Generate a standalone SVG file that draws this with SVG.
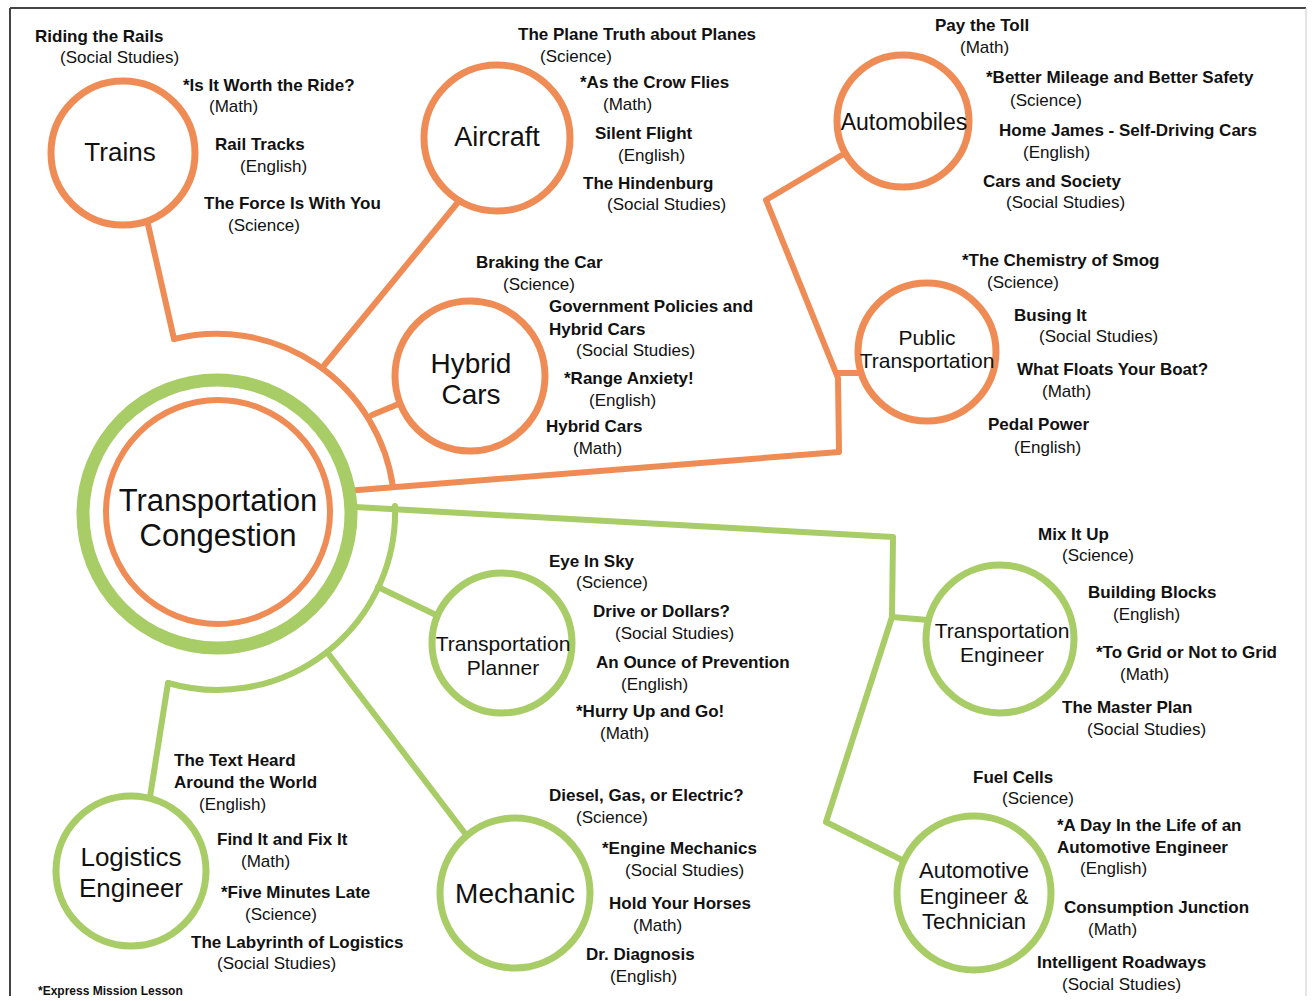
<svg xmlns="http://www.w3.org/2000/svg" width="1312" height="1001" viewBox="0 0 1312 1001">
<style>
.o{fill:none;stroke:#EF8C55;stroke-width:6;stroke-linecap:round;stroke-linejoin:round}
.g{fill:none;stroke:#A8CC66;stroke-width:6;stroke-linecap:round;stroke-linejoin:round}
.on{fill:#fff;stroke:#EF8C55;stroke-width:7}
.gn{fill:#fff;stroke:#A8CC66;stroke-width:7}
.t{font-family:"Liberation Sans",Arial,sans-serif;font-weight:bold;font-size:17px;fill:#111}
.s{font-family:"Liberation Sans",Arial,sans-serif;font-size:17px;fill:#111}
.n{font-family:"Liberation Sans",Arial,sans-serif;text-anchor:middle;fill:#111}
</style>
<rect width="1312" height="1001" fill="#fff"/>
<g id="frame">
<line x1="10" y1="8" x2="1306" y2="8" stroke="#444" stroke-width="2"/>
<line x1="10" y1="8" x2="10" y2="996" stroke="#444" stroke-width="2"/>
<line x1="1306" y1="8" x2="1306" y2="996" stroke="#ccc" stroke-width="1"/>
</g>
<g id="connectors">
<path class="o" d="M174,339 A178,178 0 0 1 393,487"/>
<path class="o" d="M147,220 L174,339"/>
<path class="o" d="M322,368 L459,201"/>
<path class="o" d="M372,415 L401,403"/>
<path class="o" d="M333,492 L839,452 L838,378 L766,200 L847,152"/>
<path class="o" d="M838,373 L861,373"/>
<path class="g" d="M395,506 A178,178 0 0 1 168,683"/>
<path class="g" d="M168,683 L150,797"/>
<path class="g" d="M327,652 L467,836"/>
<path class="g" d="M378,587 L434,614"/>
<path class="g" d="M355,507 L893,537 L892,617 L826,822 L904,861"/>
<path class="g" d="M892,617 L928,620"/>
</g>
<g id="node-central">
<circle cx="217" cy="514" r="134" fill="#fff" stroke="#A8CC66" stroke-width="13"/>
<circle cx="218" cy="512" r="112" fill="#fff" stroke="#EF8C55" stroke-width="6"/>
<text class="n" x="218" y="511" font-size="31">Transportation</text>
<text class="n" x="218" y="546" font-size="31">Congestion</text>
</g>
<g id="node-trains">
<circle class="on" cx="123" cy="153" r="72"/>
<text class="n" x="120" y="161" font-size="26">Trains</text>
<text class="t" x="35" y="42">Riding the Rails</text>
<text class="s" x="60" y="63">(Social Studies)</text>
<text class="t" x="183" y="91">*Is It Worth the Ride?</text>
<text class="s" x="209" y="112">(Math)</text>
<text class="t" x="215" y="150">Rail Tracks</text>
<text class="s" x="240" y="172">(English)</text>
<text class="t" x="204" y="209">The Force Is With You</text>
<text class="s" x="228" y="231">(Science)</text>
</g>
<g id="node-aircraft">
<circle class="on" cx="497" cy="138" r="73"/>
<text class="n" x="497" y="146" font-size="27">Aircraft</text>
<text class="t" x="518" y="40">The Plane Truth about Planes</text>
<text class="s" x="540" y="62">(Science)</text>
<text class="t" x="580" y="88">*As the Crow Flies</text>
<text class="s" x="603" y="110">(Math)</text>
<text class="t" x="595" y="139">Silent Flight</text>
<text class="s" x="618" y="161">(English)</text>
<text class="t" x="583" y="189">The Hindenburg</text>
<text class="s" x="607" y="210">(Social Studies)</text>
</g>
<g id="node-automobiles">
<circle class="on" cx="903" cy="121" r="66"/>
<text class="n" x="904" y="130" font-size="23">Automobiles</text>
<text class="t" x="935" y="31">Pay the Toll</text>
<text class="s" x="960" y="53">(Math)</text>
<text class="t" x="986" y="83">*Better Mileage and Better Safety</text>
<text class="s" x="1010" y="106">(Science)</text>
<text class="t" x="999" y="136">Home James - Self-Driving Cars</text>
<text class="s" x="1023" y="158">(English)</text>
<text class="t" x="983" y="187">Cars and Society</text>
<text class="s" x="1006" y="208">(Social Studies)</text>
</g>
<g id="node-hybrid">
<circle class="on" cx="470" cy="376" r="75"/>
<text class="n" x="471" y="373" font-size="28">Hybrid</text>
<text class="n" x="471" y="404" font-size="28">Cars</text>
<text class="t" x="476" y="268">Braking the Car</text>
<text class="s" x="503" y="290">(Science)</text>
<text class="t" x="549" y="312">Government Policies and</text>
<text class="t" x="549" y="335">Hybrid Cars</text>
<text class="s" x="576" y="356">(Social Studies)</text>
<text class="t" x="564" y="384">*Range Anxiety!</text>
<text class="s" x="589" y="406">(English)</text>
<text class="t" x="546" y="432">Hybrid Cars</text>
<text class="s" x="573" y="454">(Math)</text>
</g>
<g id="node-public">
<circle class="on" cx="927" cy="352" r="69"/>
<text class="n" x="927" y="345" font-size="21">Public</text>
<text class="n" x="927" y="368" font-size="21">Transportation</text>
<text class="t" x="962" y="266">*The Chemistry of Smog</text>
<text class="s" x="987" y="288">(Science)</text>
<text class="t" x="1014" y="321">Busing It</text>
<text class="s" x="1039" y="342">(Social Studies)</text>
<text class="t" x="1017" y="375">What Floats Your Boat?</text>
<text class="s" x="1042" y="397">(Math)</text>
<text class="t" x="988" y="430">Pedal Power</text>
<text class="s" x="1014" y="453">(English)</text>
</g>
<g id="node-planner">
<circle class="gn" cx="502" cy="643" r="70"/>
<text class="n" x="503" y="651" font-size="21">Transportation</text>
<text class="n" x="503" y="675" font-size="21">Planner</text>
<text class="t" x="549" y="567">Eye In Sky</text>
<text class="s" x="576" y="588">(Science)</text>
<text class="t" x="593" y="617">Drive or Dollars?</text>
<text class="s" x="615" y="639">(Social Studies)</text>
<text class="t" x="596" y="668">An Ounce of Prevention</text>
<text class="s" x="621" y="690">(English)</text>
<text class="t" x="576" y="717">*Hurry Up and Go!</text>
<text class="s" x="600" y="739">(Math)</text>
</g>
<g id="node-teng">
<circle class="gn" cx="1000" cy="639" r="74"/>
<text class="n" x="1002" y="638" font-size="21">Transportation</text>
<text class="n" x="1002" y="662" font-size="21">Engineer</text>
<text class="t" x="1038" y="540">Mix It Up</text>
<text class="s" x="1062" y="561">(Science)</text>
<text class="t" x="1088" y="598">Building Blocks</text>
<text class="s" x="1113" y="620">(English)</text>
<text class="t" x="1096" y="658">*To Grid or Not to Grid</text>
<text class="s" x="1120" y="680">(Math)</text>
<text class="t" x="1062" y="713">The Master Plan</text>
<text class="s" x="1087" y="735">(Social Studies)</text>
</g>
<g id="node-logistics">
<circle class="gn" cx="131" cy="871" r="75"/>
<text class="n" x="131" y="866" font-size="26">Logistics</text>
<text class="n" x="131" y="897" font-size="26">Engineer</text>
<text class="t" x="174" y="766">The Text Heard</text>
<text class="t" x="174" y="788">Around the World</text>
<text class="s" x="199" y="810">(English)</text>
<text class="t" x="217" y="845">Find It and Fix It</text>
<text class="s" x="241" y="867">(Math)</text>
<text class="t" x="221" y="898">*Five Minutes Late</text>
<text class="s" x="245" y="920">(Science)</text>
<text class="t" x="191" y="948">The Labyrinth of Logistics</text>
<text class="s" x="217" y="969">(Social Studies)</text>
</g>
<g id="node-mechanic">
<circle class="gn" cx="515" cy="893" r="75"/>
<text class="n" x="515" y="903" font-size="28">Mechanic</text>
<text class="t" x="549" y="801">Diesel, Gas, or Electric?</text>
<text class="s" x="576" y="823">(Science)</text>
<text class="t" x="602" y="854">*Engine Mechanics</text>
<text class="s" x="625" y="876">(Social Studies)</text>
<text class="t" x="609" y="909">Hold Your Horses</text>
<text class="s" x="633" y="931">(Math)</text>
<text class="t" x="586" y="960">Dr. Diagnosis</text>
<text class="s" x="610" y="982">(English)</text>
</g>
<g id="node-automotive">
<circle class="gn" cx="974" cy="893" r="77"/>
<text class="n" x="974" y="878" font-size="22">Automotive</text>
<text class="n" x="974" y="904" font-size="22">Engineer &amp;</text>
<text class="n" x="974" y="929" font-size="22">Technician</text>
<text class="t" x="973" y="783">Fuel Cells</text>
<text class="s" x="1002" y="804">(Science)</text>
<text class="t" x="1057" y="831">*A Day In the Life of an</text>
<text class="t" x="1057" y="853">Automotive Engineer</text>
<text class="s" x="1080" y="874">(English)</text>
<text class="t" x="1064" y="913">Consumption Junction</text>
<text class="s" x="1088" y="935">(Math)</text>
<text class="t" x="1037" y="968">Intelligent Roadways</text>
<text class="s" x="1062" y="990">(Social Studies)</text>
</g>
<text class="t" x="38" y="995" font-size="12" style="font-size:12px">*Express Mission Lesson</text>
</svg>
